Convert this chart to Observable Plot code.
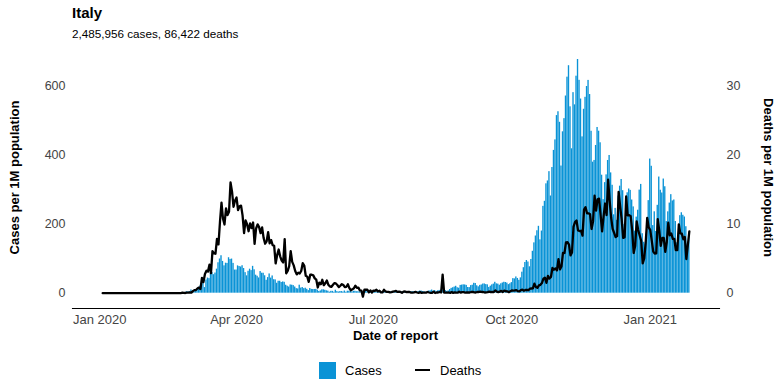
<!DOCTYPE html>
<html>
<head>
<meta charset="utf-8">
<script src="https://cdn.jsdelivr.net/npm/d3@7"></script>
<script src="https://cdn.jsdelivr.net/npm/@observablehq/plot@0.6"></script>
<style>
  html, body { margin: 0; padding: 0; background: #fff; }
  #wrap { position: relative; width: 784px; height: 392px; font-family: 'Liberation Sans', Arial, Helvetica, sans-serif; color: #000; overflow: hidden; }
  #head { position: relative; height: 40px; }
  #legend { position: relative; height: 42px; }
  .abs { position: absolute; line-height: 1; white-space: nowrap; }
</style>
</head>
<body>
<div id="wrap">
  <div id="head">
    <div class="abs" id="title" style="left:72px;top:4.8px;font-size:15px;font-weight:bold;"></div>
    <div class="abs" id="subtitle" style="left:72px;top:28px;font-size:11.7px;"></div>
  </div>
  <div id="chart"></div>
  <div id="legend"></div>
</div>
<script>
// ---- Data (values per 1M population, by date of report, starting 2020-01-03) ----
const country = "Italy";
const totalCases = 2485956;
const totalDeaths = 86422;
const startDate = "2020-01-03";

const casesPerM = [
  // Jan 2020 (3-31)
  0,0,0,0,0,0,0,0,0,0, 0,0,0,0,0,0,0,0,0,0, 0,0,0,0,0,0,0,0,0,
  // Feb 2020
  0,0,0,0,0,0,0,0,0,0, 0,0,0,0,0,0,0,0,0,0, 0,0.3,1.0,1.3,1.2,1.5,1.3,4.1,3.9,
  // Mar 2020
  4.0,9.4,5.7,7.7,9.7,12.7,12.9,20.7,24.7,29.8, 16.2,38.3,43.9,42.2,57.9,59.5,53.6,58.4,69.7,88.2,
  99.2,108.6,92.1,79.3,87.0,86.3,102.8,97.9,99.0,86.4, 67.1,
  // Apr 2020
  67.1,79.2,77.3,76.0,79.6,71.5,59.6,50.3,63.6,69.6, 65.5,77.8,67.8,52.2,49.2,44.2,62.7,57.9,57.8,50.5,
  37.4,45.2,55.8,43.8,50.0,39.0,38.5,28.8,34.6,34.6,
  // May 2020
  31.0,32.6,31.5,23.0,20.2,17.8,23.9,23.2,22.0,17.9, 13.3,12.3,23.2,14.7,16.4,13.1,14.5,11.2,7.5,13.5,
  11.0,10.6,10.8,11.1,8.8,5.0,6.6,9.7,9.8,8.5, 6.9,
  // Jun 2020
  5.9,2.9,5.3,5.3,2.9,8.6,4.5,3.3,4.6,4.7, 3.3,6.3,2.7,5.7,5.6,5.0,3.5,5.5,5.5,4.2,
  4.3,3.7,3.6,2.0,3.1,4.9,4.3,2.9,2.9,2.1,
  // Jul 2020
  2.4,3.1,3.3,3.7,3.9,3.2,3.4,2.3,3.2,3.8, 4.6,3.1,3.9,2.8,1.9,2.7,3.8,3.9,4.1,3.6,
  3.6,2.1,3.1,4.7,5.1,4.2,4.6,4.2,2.8,3.5, 4.8,
  // Aug 2020
  6.4,6.3,4.9,4.0,2.6,3.1,6.4,6.7,9.1,5.7, 7.7,4.3,6.8,8.0,8.7,9.5,10.4,7.9,5.3,6.7,
  10.6,14.0,15.7,17.7,20.0,15.8,14.5,22.6,23.4,24.2, 23.9,
  // Sep 2020
  22.6,16.5,16.2,22.0,23.1,28.7,28.1,21.5,18.4,22.7, 23.8,26.5,26.8,24.9,24.2,16.7,20.4,24.1,26.3,31.6,
  27.1,26.3,23.1,27.2,29.6,31.7,31.0,29.3,24.8,27.3,
  // Oct 2020
  30.7,42.2,41.4,47.1,42.7,37.4,44.4,60.9,73.9,89.0, 94.8,90.4,76.5,97.8,121.5,145.9,165.8,181.0,193.9,154.7,
  180.2,251.8,266.4,317.1,325.4,352.4,281.8,364.4,414.0,444.5, 515.0,
  // Nov 2020
  526.1,495.5,368.7,467.9,506.1,571.7,626.4,659.6,540.4,418.7, 581.5,546.1,629.2,677.6,617.2,563.0,453.2,533.3,568.0,599.3,
  617.0,576.0,469.5,379.9,384.9,428.3,480.5,469.7,436.1,342.1,
  // Dec 2020
  271.3,320.6,343.1,384.8,399.3,348.8,312.9,227.3,245.9,211.3, 281.6,310.3,329.7,297.2,199.3,245.9,291.1,302.1,298.1,270.2,
  250.2,180.1,220.6,240.6,298.9,315.4,172.4,147.7,142.2,186.0, 268.4,
  // Jan 2021 (1-27)
  388.9,368.0,196.0,236.0,178.9,254.8,336.8,298.5,290.5,331.0, 308.6,207.6,235.9,261.3,285.7,267.5,270.2,207.8,146.2,173.9,
  224.8,233.2,225.9,220.9,192.7,141.8,175.5
];

const deathsPerM = [
  // Jan 2020 (3-31)
  0,0,0,0,0,0,0,0,0,0, 0,0,0,0,0,0,0,0,0,0, 0,0,0,0,0,0,0,0,0,
  // Feb 2020
  0,0,0,0,0,0,0,0,0,0, 0,0,0,0,0,0,0,0,0,0, 0,0.02,0.02,0.02,0.07,0.05,0.03,0.08,0.07,
  // Mar 2020
  0.13,0.08,0.3,0.45,0.46,0.68,0.81,0.6,2.2,1.61, 2.78,3.25,3.13,4.14,2.9,6.1,5.78,5.72,7.87,7.07,
  10.39,13.14,10.79,9.96,12.31,11.32,11.8,16.05,14.73,12.52, 13.45,
  // Apr 2020
  13.87,12.04,12.59,12.69,11.28,8.7,10.54,10.01,8.98,10.11, 9.44,10.25,7.14,9.38,9.97,9.58,8.7,9.53,7.99,7.17,
  7.52,8.85,7.24,7.69,6.96,6.88,4.31,5.52,6.33,5.35,
  // May 2020
  4.72,4.46,7.85,2.88,3.23,3.91,6.11,4.54,4.03,3.21, 2.73,2.97,2.85,3.23,4.34,4.01,2.53,2.4,1.64,2.68,
  2.67,2.58,2.15,1.97,0.83,1.52,1.29,1.94,1.16,1.44, 1.84,
  // Jun 2020
  1.24,0.99,0.91,1.18,1.46,1.41,1.19,0.88,1.08,1.31, 1.18,0.88,0.93,1.29,0.73,0.43,0.56,0.71,1.09,0.78,
  0.81,0.4,0.38,-0.5,0.5,0.5,0.5,0.13,0.4,0.1,
  // Jul 2020
  0.38,0.35,0.5,0.25,0.35,0.12,0.13,0.5,0.25,0.2, 0.2,0.12,0.15,0.22,0.28,0.33,0.18,0.22,0.18,0.05,
  0.22,0.25,0.15,0.17,0.17,0.08,0.08,0.12,0.18,0.1, 0.05,
  // Aug 2020
  0.15,0.05,0.08,0.07,0.08,0.17,0.1,0.05,0.05,0.22, 0.03,0.1,0.1,0.17,0.1,2.7,0.07,0.07,0.08,0.1,
  0.05,0.15,0.05,0.12,0.07,0.07,0.22,0.08,0.15,0.15, 0.07,
  // Sep 2020
  0.1,0.1,0.1,0.17,0.18,0.12,0.1,0.17,0.17,0.23, 0.17,0.17,0.1,0.12,0.15,0.23,0.15,0.17,0.17,0.4,
  0.23,0.15,0.23,0.33,0.17,0.38,0.28,0.27,0.15,0.28,
  // Oct 2020
  0.4,0.38,0.4,0.45,0.3,0.27,0.46,0.51,0.36,0.46, 0.48,0.43,0.65,0.68,0.71,1.38,0.91,0.78,1.14,1.21,
  1.47,2.1,2.25,1.51,2.5,2.12,2.34,3.66,3.4,3.6, 3.3,
  // Nov 2020
  4.92,3.45,3.86,5.85,5.83,7.37,7.39,7.04,5.48,5.9, 9.61,10.32,10.54,9.11,9.01,9.05,8.35,12.11,12.47,11.58,
  11.58,11.46,9.31,10.44,14.13,11.96,13.62,13.7,11.37,8.96,
  // Dec 2020
  11.13,13.0,11.33,16.45,13.49,10.97,9.34,8.75,8.13,8.27, 14.7,12.61,10.75,8.02,8.13,14.02,11.27,11.32,11.17,9.16,
  5.83,6.88,10.4,9.16,8.37,7.6,4.32,5.05,7.37,10.92, 9.53,
  // Jan 2021 (1-27)
  9.19,7.65,6.03,5.75,5.77,10.75,9.08,6.86,8.0,8.0, 5.98,7.42,10.21,8.4,8.65,7.87,7.87,6.25,6.25,9.99,
  8.68,8.63,7.82,8.15,4.95,6.96,8.96
];

const caseTicks = [0, 200, 400, 600];
const deathTicks = [0, 10, 20, 30];
const xTickDates = ["2020-01-01", "2020-04-01", "2020-07-01", "2020-10-01", "2021-01-01"];
const seriesNames = ["Cases", "Deaths"];

// ---- Build ----
const ratio = 20; // secondary axis: 10 deaths per 1M aligned with 200 cases per 1M
const DAY = 864e5;
const t0 = new Date(startDate + "T00:00:00Z").getTime();
const rows = casesPerM.map((c, i) => ({
  date: new Date(t0 + i * DAY),
  cases: c,
  deaths: deathsPerM[i]
}));

const barColor = "#0a93d6";
const font = "'Liberation Sans', Arial, Helvetica, sans-serif";

document.getElementById("title").textContent = country;
document.getElementById("subtitle").textContent =
  d3.format(",")(totalCases) + " cases, " + d3.format(",")(totalDeaths) + " deaths";

const svgHeight = 310;
const plot = Plot.plot({
  width: 784,
  height: svgHeight,
  marginTop: 7,
  marginBottom: 42,
  marginLeft: 72,
  marginRight: 65,
  style: { fontFamily: font, fontSize: "12px", color: "#444", background: "white", overflow: "visible" },
  x: { type: "utc", domain: [new Date(Date.UTC(2019, 11, 13, 22, 48)), new Date(Date.UTC(2021, 1, 16, 1, 12))] },
  y: { domain: [-44.4, 712.4] },
  marks: [
    Plot.rectY(rows, {
      x1: d => new Date(d.date.getTime() - 0.45 * DAY),
      x2: d => new Date(d.date.getTime() + 0.45 * DAY),
      y1: 0,
      y2: "cases",
      fill: barColor
    }),
    Plot.line(rows, { x: "date", y: d => d.deaths * ratio, stroke: "#000", strokeWidth: 2.3 }),
    Plot.axisX({
      ticks: xTickDates.map(s => new Date(s + "T00:00:00Z")),
      tickFormat: d3.utcFormat("%b %Y"),
      tickSize: 0, tickPadding: 6.5, label: null, fontSize: 13
    }),
    Plot.axisY({ anchor: "left", ticks: caseTicks, tickSize: 0, tickPadding: 7, label: null, fontSize: 12.5 }),
    Plot.axisY({
      anchor: "right", ticks: deathTicks.map(d => d * ratio),
      tickFormat: d => String(d / ratio), tickSize: 0, tickPadding: 7, label: null, fontSize: 12.5
    }),
    Plot.frame({ anchor: "bottom", stroke: "#000", strokeWidth: 1.1 })
  ]
});
document.getElementById("chart").appendChild(plot);

// axis titles
const svg = d3.select(plot);
const yOff = 40;
svg.append("text").text("Date of report")
  .attr("x", 395.5).attr("y", 339.5 - yOff)
  .attr("text-anchor", "middle").attr("font-weight", "bold").attr("font-size", 13)
  .attr("fill", "#000").attr("font-family", font);
svg.append("text").text("Cases per 1M population")
  .attr("transform", `translate(19,${177.5 - yOff}) rotate(-90)`)
  .attr("text-anchor", "middle").attr("font-weight", "bold").attr("font-size", 13)
  .attr("fill", "#000").attr("font-family", font);
svg.append("text").text("Deaths per 1M population")
  .attr("transform", `translate(764.4,${177.5 - yOff}) rotate(90)`)
  .attr("text-anchor", "middle").attr("font-weight", "bold").attr("font-size", 13)
  .attr("fill", "#000").attr("font-family", font);

// legend
const legend = document.getElementById("legend");
legend.innerHTML = `
  <div class="abs" style="left:319px;top:12px;width:17px;height:17px;background:${barColor};"></div>
  <div class="abs" style="left:345px;top:13.6px;font-size:13px;">${seriesNames[0]}</div>
  <div class="abs" style="left:415px;top:18.8px;width:15px;height:2.5px;background:#000;"></div>
  <div class="abs" style="left:440px;top:13.6px;font-size:13px;">${seriesNames[1]}</div>
`;
</script>
</body>
</html>
